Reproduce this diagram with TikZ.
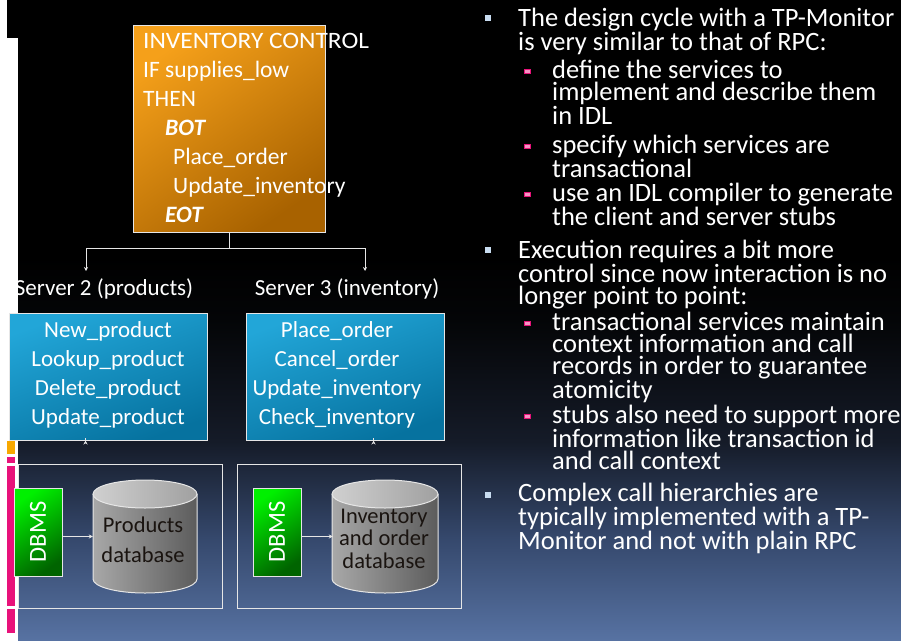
\documentclass[tikz,border=0pt]{standalone}
\usepackage{fontspec}
\setmainfont{Carlito}
\usetikzlibrary{arrows.meta,calc}

\definecolor{bgbot}{HTML}{5772A2}
\definecolor{bglow}{HTML}{35486C}
\definecolor{bgmid}{HTML}{151B28}
\definecolor{bgdark}{HTML}{040507}
\definecolor{barorange}{HTML}{F7A800}
\definecolor{barpink}{HTML}{E8127A}
\definecolor{orangeA}{HTML}{F5A01A}
\definecolor{orangeB}{HTML}{A86200}
\definecolor{blueA}{HTML}{22A6D8}
\definecolor{blueB}{HTML}{06729F}
\definecolor{greenA}{HTML}{00F000}
\definecolor{greenB}{HTML}{006400}
\definecolor{cylL}{HTML}{A8A8A8}
\definecolor{cylR}{HTML}{5C5C5C}
\definecolor{capL}{HTML}{D0D0D0}
\definecolor{capR}{HTML}{A0A0A0}
\definecolor{lineclr}{HTML}{E6E6E6}
\definecolor{bulletblue}{HTML}{C8DCF0}
\definecolor{dbtext}{HTML}{1A1410}

% the path is mapped onto the 25bp--75bp band of the shading
\pgfdeclareverticalshading{slidebg}{100bp}{color(0bp)=(bgbot); color(25bp)=(bgbot); color(33bp)=(bglow); color(40.5bp)=(bgmid); color(50bp)=(bgdark); color(55bp)=(black); color(100bp)=(black)}

\tikzset{
  conn/.style={draw=lineclr, line width=1pt, -{Stealth[length=4pt,width=4pt]}},
  plainline/.style={draw=lineclr, line width=1pt},
  ctrlbox/.style={rectangle, draw=lineclr, line width=1pt, inner sep=0pt,
    top color=orangeA, bottom color=orangeB, shading angle=35},
  svcbox/.style={rectangle, draw=lineclr, line width=1pt, inner sep=0pt,
    top color=blueA, bottom color=blueB, shading angle=20,
    minimum width=198pt, minimum height=127pt},
  hostbox/.style={rectangle, draw=lineclr, line width=0.9pt, inner sep=0pt,
    minimum height=144pt},
  dbmsbox/.style={rectangle, draw=lineclr, line width=0.9pt, inner sep=0pt,
    top color=greenA, bottom color=greenB, shading angle=35,
    minimum width=48pt, minimum height=88pt, text=white,
    font=\fontsize{24.5}{26}\selectfont},
  dbframe/.style={rectangle, inner sep=0pt, minimum width=104pt, minimum height=113pt},
  ctrltext/.style={text=white, inner sep=0pt, font=\fontsize{23.5}{29}\selectfont},
  boxtext/.style={text=white, inner sep=0pt, font=\fontsize{23}{29}\selectfont},
  labeltext/.style={text=white, inner sep=0pt, font=\fontsize{23}{26}\selectfont},
  dbtextstyle/.style={text=dbtext, inner sep=0pt, align=center},
  para/.style={text=white, inner sep=0pt, align=left, anchor=base west,
    font=\fontsize{26.5}{22}\selectfont},
  mainbullet/.style={rectangle, fill=bulletblue, inner sep=0pt, minimum size=6pt},
  subbullet/.style={rectangle, draw=barpink, fill=barpink!45, line width=1pt,
    inner sep=0pt, minimum width=6pt, minimum height=4pt},
}

\begin{document}
\begin{tikzpicture}[x=1pt, y=-1pt]
\useasboundingbox (0,0) rectangle (901,640);

% slide background and left margin strip
\fill[white] (0,0) rectangle (901,640);
\fill[black] (7,0) rectangle (18,38);
\shade[shading=slidebg] (18,0) rectangle (901,640);
\fill[barorange] (7,441) rectangle (15,454);
\fill[barpink] (7,457) rectangle (15,463);
\fill[barpink] (7,466) rectangle (15,606);
\fill[barpink] (7,609) rectangle (15,633);

% client program (multi-line nodes are anchored at their last baseline)
\node[ctrlbox, minimum width=192pt, minimum height=207pt] (inv) at (229,128.5) {};
\node[ctrltext, align=left, anchor=base west] (invt) at (143,222)
  {\scalebox{1.08}[1]{INVENTORY CONTROL}\\
   IF supplies\_low\\
   THEN\\
   \hspace*{22pt}\textbf{\textit{BOT}}\\
   \hspace*{30pt}Place\_order\\
   \hspace*{30pt}Update\_inventory\\
   \hspace*{22pt}\textbf{\textit{EOT}}};

% servers
\node[labeltext, anchor=base] (s2lab) at (104,295) {Server 2 (products)};
\node[labeltext, anchor=base] (s3lab) at (347,295) {Server 3 (inventory)};
\coordinate (t2) at (86,271);
\coordinate (t3) at (365,271);
\coordinate (fork) at ($(inv.south)+(0,16)$);
\draw[plainline] (inv.south) -- (fork);
\draw[conn] (fork) -| (t2);
\draw[conn] (fork) -| (t3);

\node[svcbox] (sv2) at (108,376.5) {};
\node[svcbox] (sv3) at (345,376.5) {};
\node[boxtext, align=center, anchor=base] (sv2t) at (108,424)
  {New\_product\\Lookup\_product\\Delete\_product\\Update\_product};
\node[boxtext, align=center, anchor=base] (sv3t) at (337,424)
  {Place\_order\\Cancel\_order\\Update\_inventory\\Check\_inventory};

% resource managers
\node[hostbox, minimum width=204pt] (h1) at (120,536) {};
\node[hostbox, minimum width=224pt] (h2) at (349,536) {};
\draw[conn] ($(sv2.south west)+(77,0)$) -- ($(sv2.south west)+(77,0)$ |- h1.north);
\draw[conn] ($(sv3.south west)+(128,0)$) -- ($(sv3.south west)+(128,0)$ |- h2.north);

\node[dbmsbox] (dbms1) at (38,532) {\rotatebox{90}{DBMS}};
\node[dbmsbox] (dbms2) at (277,532) {\rotatebox{90}{DBMS}};

% databases
\node[dbframe] (db1) at (145,536.5) {};
\node[dbframe] (db2) at (385,536.5) {};
\foreach \c/\r in {145/52, 385/53} {
  \shade[left color=cylL, right color=cylR]
    (\c-\r,494) -- (\c-\r,579) arc[start angle=180, end angle=0, x radius=\r, y radius=14]
    -- (\c+\r,494) -- cycle;
  \draw[lineclr, line width=1pt]
    (\c-\r,494) -- (\c-\r,579) arc[start angle=180, end angle=0, x radius=\r, y radius=14]
    -- (\c+\r,494);
  \shade[left color=capL, right color=capR, draw=lineclr, line width=1pt]
    (\c,494) ellipse[x radius=\r, y radius=14];
}
\node[dbtextstyle, anchor=base, font=\fontsize{22.5}{30}\selectfont] (db1t) at (143,562)
  {Products\\database};
\node[dbtextstyle, anchor=base, font=\fontsize{22.5}{22.5}\selectfont] (db2t) at (384,568)
  {Inventory\\and order\\database};

\draw[conn] (dbms1.east |- db1.west) -- (db1.west);
\draw[conn] (dbms2.east |- db2.west) -- (db2.west);

% bullet text
\node[mainbullet] (b1) at (488,18) {};
\node[para] (p1) at (518,50) {The design cycle with a TP-Monitor\\is very similar to that of RPC:};
\node[subbullet] (b11) at (527,71) {};
\node[para] (p11) at (552,124) {define the services to\\implement and describe them\\in IDL};
\node[subbullet] (b12) at (527,146) {};
\node[para] (p12) at (552,177) {specify which services are\\transactional};
\node[subbullet] (b13) at (527,194) {};
\node[para] (p13) at (552,225) {use an IDL compiler to generate\\the client and server stubs};
\node[mainbullet] (b2) at (488,250) {};
\node[para] (p2) at (518,304) {Execution requires a bit more\\control since now interaction is no\\longer point to point:};
\node[subbullet] (b21) at (527,323) {};
\node[para] (p21) at (552,398) {transactional services maintain\\context information and call\\records in order to guarantee\\atomicity};
\node[subbullet] (b22) at (527,416) {};
\node[para] (p22) at (552,469) {stubs also need to support more\\information like transaction id\\and call context};
\node[mainbullet] (b3) at (488,495) {};
\node[para] (p3) at (518,549) {Complex call hierarchies are\\typically implemented with a TP-\\Monitor and not with plain RPC};
\end{tikzpicture}
\end{document}
